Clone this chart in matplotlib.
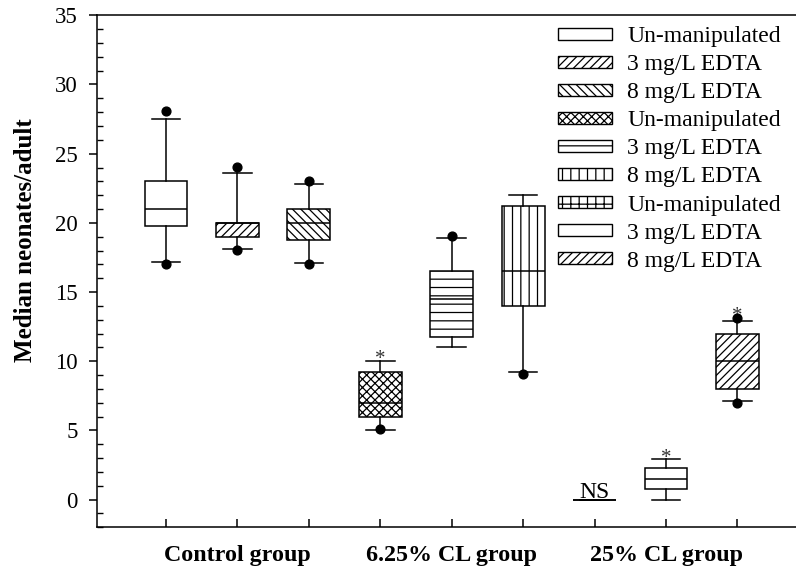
import matplotlib
matplotlib.use("Agg")
import matplotlib.pyplot as plt
from matplotlib.patches import Patch
from matplotlib.ticker import MultipleLocator

plt.rcParams['font.family'] = ['Liberation Serif', 'DejaVu Serif']
plt.rcParams['hatch.linewidth'] = 0.9

# ---- data ----
positions = [1, 2, 3, 4, 5, 6, 7, 8, 9]
treatments = ['Un-manipulated', '3 mg/L EDTA', '8 mg/L EDTA',
              'Un-manipulated', '3 mg/L EDTA', '8 mg/L EDTA',
              'Un-manipulated', '3 mg/L EDTA', '8 mg/L EDTA']
group_labels = ['Control group', '6.25% CL group', '25% CL group']
group_centers = [2, 5, 8]
q1 = [19.75, 19.0, 18.75, 6.0, 11.75, 14.0, 0.0, 0.75, 8.0]
med = [21.0, 20.0, 20.0, 7.0, 14.5, 16.5, 0.0, 1.5, 10.0]
q3 = [23.0, 20.0, 21.0, 9.25, 16.5, 21.25, 0.0, 2.25, 12.0]
whislo = [17.2, 18.1, 17.1, 5.0, 11.0, 9.2, 0.0, 0.0, 7.1]
whishi = [27.5, 23.6, 22.8, 10.0, 18.9, 22.0, 0.0, 2.9, 12.9]
# 5th / 95th percentile points
pts_x = [1, 1, 2, 2, 3, 3, 4, 5, 6, 9, 9]
pts_y = [17.05, 28.1, 18.05, 24.05, 17.05, 23.05, 5.1, 19.05, 9.05, 7.0, 13.1]
hatches = ['', '////', '\\\\\\\\', 'xxxx', '--', '||', '++', '', '////']
star_positions = [4, 8, 9]
star_y = [10.6, 3.5, 13.75]
ns_position = 7

fig = plt.figure(figsize=(7.96, 5.71), dpi=100)
ax = fig.add_axes([97/796, 43.7/571, 1 - 97/796, (555.7 - 43.7)/571])

stats = []
for i in range(len(positions)):
    stats.append(dict(med=med[i], q1=q1[i], q3=q3[i], whislo=whislo[i],
                      whishi=whishi[i], fliers=[], label=treatments[i]))

lw = 1.1
bp = ax.bxp(stats, positions=positions, widths=0.6, capwidths=0.4,
            patch_artist=True, showfliers=False, manage_ticks=False,
            boxprops=dict(linewidth=lw, edgecolor='black', facecolor='white'),
            medianprops=dict(linewidth=lw, color='black'),
            whiskerprops=dict(linewidth=lw, color='black'),
            capprops=dict(linewidth=lw, color='black'))
for patch, h in zip(bp['boxes'], hatches):
    patch.set_hatch(h)

ax.scatter(pts_x, pts_y, s=40, color='black', zorder=5)

for xp, v in zip(star_positions, star_y):
    ax.annotate('*', xy=(xp, v), xytext=(0, -8.3), textcoords='offset points',
                ha='center', va='baseline', fontsize=15, color='#333333')
ax.text(ns_position, 0.15, 'NS', ha='center', va='baseline', fontsize=17)

ax.set_xlim(0.034, 9.82)
ax.set_ylim(-2, 35)
ax.xaxis.remove_overlapping_locs = False
ax.set_xticks(positions)
ax.set_xticklabels([''] * len(positions))
ax.tick_params(axis='x', direction='in', length=6, width=1.1)
ax.set_xticks(group_centers, minor=True)
ax.set_xticklabels(group_labels, minor=True, fontsize=17.3, fontweight='bold')
ax.tick_params(axis='x', which='minor', length=0, pad=13)

ax.set_yticks(range(0, 36, 5))
ax.yaxis.set_minor_locator(MultipleLocator(1))
ax.tick_params(axis='y', which='major', direction='out', length=6, width=1.1,
               labelsize=16.5, pad=8)
ax.tick_params(axis='y', which='minor', direction='in', length=4, width=1.0)
fig.text(25.5/796, 1 - 240/571, 'Median neonates/adult', rotation=90,
         ha='center', va='center', fontsize=18, fontweight='bold')

ax.spines['right'].set_visible(False)
for s in ['left', 'bottom', 'top']:
    ax.spines[s].set_linewidth(1.1)

handles = [Patch(facecolor='white', edgecolor='black', hatch=h, linewidth=1.0)
           for h in hatches]
fig.legend(handles, treatments, loc='upper left',
           bbox_to_anchor=(558/796, 1 - 26/571), frameon=False,
           fontsize=17, handlelength=2.29, handleheight=0.4,
           handletextpad=0.64, labelspacing=0.30, borderpad=0, borderaxespad=0)

fig.savefig('out.png', dpi=100)
